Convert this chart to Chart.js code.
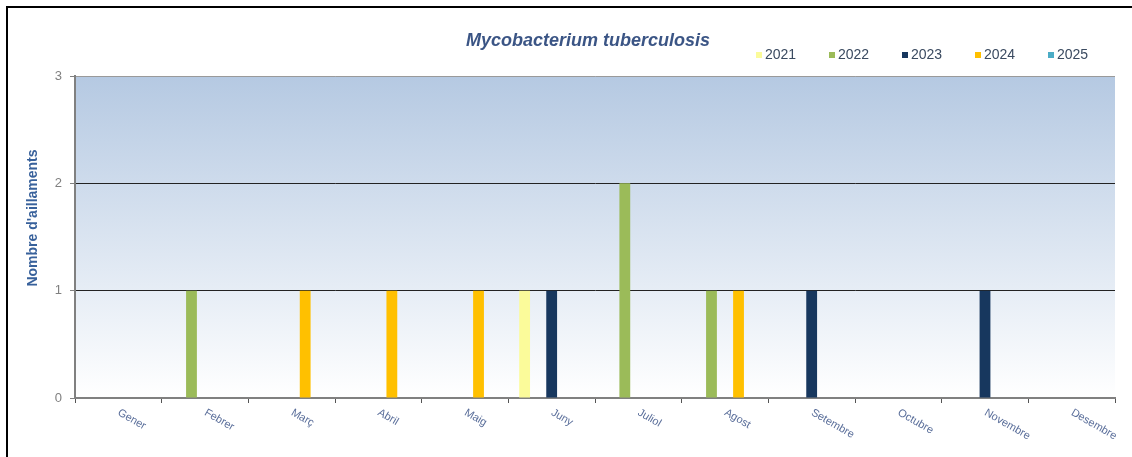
<!DOCTYPE html>
<html>
<head>
<meta charset="utf-8">
<title>Mycobacterium tuberculosis</title>
<script src="https://cdn.jsdelivr.net/npm/chart.js@4.4.1/dist/chart.umd.min.js"></script>
<style>
  html, body { margin: 0; padding: 0; background: #fff; overflow: hidden; }
  #wrap { position: relative; width: 1132px; height: 457px; }
  #frame { position: absolute; left: 6px; top: 6px; width: 1140px; height: 460px; border: 2px solid #000; }
  canvas { position: absolute; left: 0; top: 0; }
</style>
</head>
<body>
<div id="wrap">
  <div id="frame"></div>
  <canvas id="chart" width="1132" height="457"></canvas>
</div>
<script>
// Chart data
const months = ["Gener", "Febrer", "Març", "Abril", "Maig", "Juny", "Juliol", "Agost", "Setembre", "Octubre", "Novembre", "Desembre"];
const years = ["2021", "2022", "2023", "2024", "2025"];
const yearColors = ["#FBFB9A", "#9BBB59", "#17375E", "#FFC000", "#4BACC6"];
const cases2021 = [0, 0, 0, 0, 0, 1, 0, 0, 0, 0, 0, 0];
const cases2022 = [0, 1, 0, 0, 0, 0, 2, 1, 0, 0, 0, 0];
const cases2023 = [0, 0, 0, 0, 0, 1, 0, 0, 1, 0, 1, 0];
const cases2024 = [0, 0, 1, 1, 1, 0, 0, 1, 0, 0, 0, 0];
const cases2025 = [0, 0, 0, 0, 0, 0, 0, 0, 0, 0, 0, 0];
const yTicks = [0, 1, 2, 3];

const chartTitle = "Mycobacterium tuberculosis";
const yTitle = "Nombre d'aillaments";

const seriesValues = [cases2021, cases2022, cases2023, cases2024, cases2025];

// Gradient behind the bars
const plotBackground = {
  id: "plotBackground",
  beforeDraw(chart) {
    const { ctx, chartArea: a } = chart;
    const grad = ctx.createLinearGradient(0, a.top, 0, a.bottom);
    grad.addColorStop(0, "#b5c9e2");
    grad.addColorStop(1, "#ffffff");
    ctx.save();
    ctx.fillStyle = grad;
    ctx.fillRect(a.left, a.top, a.right - a.left, a.bottom - a.top);
    ctx.restore();
  }
};

// Title, legend, y-axis title and slanted month labels
const extraText = {
  id: "extraText",
  afterDraw(chart) {
    const { ctx, chartArea: a } = chart;
    ctx.save();

    // title
    ctx.font = "italic bold 18px 'Liberation Sans', Arial, sans-serif";
    ctx.fillStyle = "#3b5585";
    ctx.textAlign = "center";
    ctx.textBaseline = "middle";
    ctx.fillText(chartTitle, 588, 41);

    // legend
    ctx.font = "14px 'Liberation Sans', Arial, sans-serif";
    ctx.textAlign = "left";
    let x = 756;
    chart.data.datasets.forEach(ds => {
      ctx.fillStyle = ds.backgroundColor;
      ctx.fillRect(x, 52, 6, 6);
      ctx.fillStyle = "#3a4a60";
      ctx.fillText(ds.label, x + 9, 55);
      x += 73;
    });

    // y axis title
    ctx.font = "bold 14px 'Liberation Sans', Arial, sans-serif";
    ctx.fillStyle = "#38619b";
    ctx.textAlign = "center";
    ctx.translate(33, 218);
    ctx.rotate(-Math.PI / 2);
    ctx.fillText(yTitle, 0, 0);
    ctx.setTransform(1, 0, 0, 1, 0, 0);

    // month labels
    const xScale = chart.scales.x;
    ctx.font = "11px 'Liberation Sans', Arial, sans-serif";
    ctx.fillStyle = "#5a6e9a";
    ctx.textAlign = "left";
    ctx.textBaseline = "top";
    months.forEach((m, i) => {
      const px = xScale.getPixelForValue(i);
      ctx.save();
      ctx.translate(px + 3, a.bottom + 9);
      ctx.rotate(Math.PI / 6);
      ctx.fillText(m, 0, 0);
      ctx.restore();
    });

    ctx.restore();
  }
};

const ctx = document.getElementById("chart").getContext("2d");
const chart = new Chart(ctx, {
  type: "bar",
  data: {
    labels: months,
    datasets: years.map((year, i) => ({
      label: year,
      data: seriesValues[i],
      backgroundColor: yearColors[i],
      borderWidth: 0,
      categoryPercentage: 0.78,
      barPercentage: 0.8
    }))
  },
  options: {
    responsive: false,
    animation: false,
    layout: {
      padding: { top: 76, left: 10, right: 17, bottom: 0 }
    },
    plugins: {
      legend: { display: false },
      title: { display: false },
      tooltip: { enabled: false }
    },
    scales: {
      x: {
        offset: true,
        grid: {
          display: true,
          offset: true,
          drawOnChartArea: false,
          drawTicks: true,
          tickLength: 5,
          tickColor: "#555"
        },
        border: { color: "#808080", width: 2 },
        ticks: { display: false },
        afterFit(scale) { scale.height = 59; }
      },
      y: {
        min: 0,
        max: 3,
        afterBuildTicks(scale) {
          scale.ticks = yTicks.map(v => ({ value: v }));
        },
        grid: {
          color: c => (c.tick.value === 3 ? "#9a9a9a" : "#222"),
          lineWidth: 1,
          drawTicks: true,
          tickLength: 5,
          tickColor: "#808080"
        },
        border: { color: "#808080", width: 2 },
        ticks: {
          padding: 8,
          color: "#808080",
          font: { family: "'Liberation Sans', Arial, sans-serif", size: 13 }
        },
        afterFit(scale) { scale.width = 65; }
      }
    }
  },
  plugins: [plotBackground, extraText]
});
</script>
</body>
</html>
